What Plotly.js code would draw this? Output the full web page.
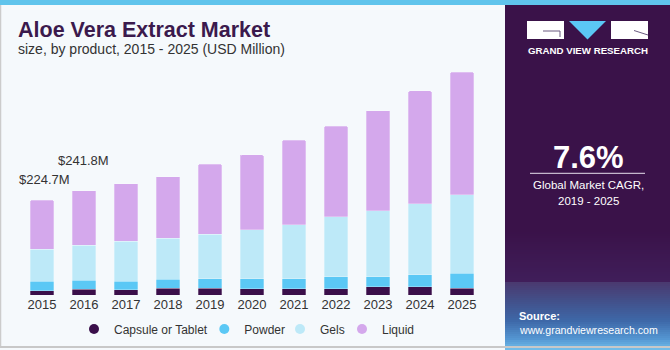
<!DOCTYPE html>
<html><head><meta charset="utf-8">
<script src="https://cdn.plot.ly/plotly-3.0.1.min.js"></script>
<style>html,body{margin:0;padding:0;background:#f5f9fc;} #chart{width:670px;height:350px;}</style>
</head><body><div id="chart"></div>
<script>
// ---- data ----
const years = ['2015','2016','2017','2018','2019','2020','2021','2022','2023','2024','2025'];
const capsule = [10.2,14.2,12.6,16.6,16.6,15.0,15.0,15.0,19.0,19.0,16.6];
const powder  = [23.0,21.4,20.6,20.6,21.4,23.0,23.0,28.5,24.4,28.5,35.6];
const gels    = [75.9,82.3,94.2,98.0,106.1,116.3,128.9,141.7,156.6,169.2,185.1];
const liquid  = [115.6,129.6,136.7,145.5,166.1,178.0,200.3,215.2,237.3,267.4,291.1];
const seriesNames = ['Capsule or Tablet','Powder','Gels','Liquid'];
const totalLabelYears = ['2015','2016'];
const totalLabels = ['$224.7M','$241.8M'];
const cagrText = '7.6%';

// ---- geometry helpers (pixel -> paper) ----
const W=670,H=350, ML=21, MR=187, MT=59, MB=55;
const PW=W-ML-MR, PH=H-MT-MB;
const px = x => (x-ML)/PW;
const py = y => (H-MB-y)/PH;

const colors = ['#3a0f4a','#5bc8f5','#bde9f8','#d4a8ec'];
const series = [capsule,powder,gels,liquid];

const traces = series.map((s,i)=>({
  type:'bar', x:years, y:s, name:seriesNames[i], showlegend:false,
  marker:{color:colors[i], line:{width:0.6,color:'rgba(255,255,255,0.45)'}},
  hoverinfo:'skip'
}));
const legendNames=['legend','legend2','legend3','legend4'];
series.forEach((s,i)=>{
  traces.push({type:'scatter', mode:'markers', x:[years[0]], y:[null], name:seriesNames[i],
    legend:legendNames[i], showlegend:true, hoverinfo:'skip',
    marker:{color:colors[i], size:10, symbol:'circle'}});
});

const totals = years.map((_,i)=>capsule[i]+powder[i]+gels[i]+liquid[i]);

const font = 'Liberation Sans, Arial, sans-serif';
const annotations = [];
const shifts = [{xs:2,ys:11},{xs:-1,ys:21}];
totalLabelYears.forEach((yr,k)=>{
  const i = years.indexOf(yr);
  annotations.push({x:i, y:totals[i], xref:'x', yref:'y', text:totalLabels[k], showarrow:false,
    yanchor:'bottom', xshift:shifts[k].xs, yshift:shifts[k].ys, font:{family:font,size:13,color:'#333'}});
});
// titles
annotations.push({xref:'paper',yref:'paper',x:px(16),y:py(30),xanchor:'left',yanchor:'middle',showarrow:false,
  text:'<b>Aloe Vera Extract Market</b>', font:{family:font,size:21.5,color:'#3b1a4d'}});
annotations.push({xref:'paper',yref:'paper',x:px(16),y:py(49),xanchor:'left',yanchor:'middle',showarrow:false,
  text:'size, by product, 2015 - 2025 (USD Million)', font:{family:font,size:14,color:'#333'}});
// right panel
annotations.push({xref:'paper',yref:'paper',x:px(587.5),y:py(50.7),xanchor:'center',yanchor:'middle',showarrow:false,
  text:'<b>GRAND VIEW RESEARCH</b>', font:{family:font,size:9.7,color:'#ffffff'}});
annotations.push({xref:'paper',yref:'paper',x:px(588),y:py(157),xanchor:'center',yanchor:'middle',showarrow:false,
  text:'<b>'+cagrText+'</b>', font:{family:font,size:31,color:'#ffffff'}});
annotations.push({xref:'paper',yref:'paper',x:px(588),y:py(185),xanchor:'center',yanchor:'middle',showarrow:false,
  text:'Global Market CAGR,', font:{family:font,size:11.5,color:'#ffffff'}});
annotations.push({xref:'paper',yref:'paper',x:px(588),y:py(201),xanchor:'center',yanchor:'middle',showarrow:false,
  text:'2019 - 2025', font:{family:font,size:11.5,color:'#ffffff'}});
annotations.push({xref:'paper',yref:'paper',x:px(517),y:py(315.5),xanchor:'left',yanchor:'middle',showarrow:false,
  text:'<b>Source:</b>', font:{family:font,size:11,color:'#ffffff'}});
annotations.push({xref:'paper',yref:'paper',x:px(517),y:py(329.5),xanchor:'left',yanchor:'middle',showarrow:false,
  text:'www.grandviewresearch.com', font:{family:font,size:10.6,color:'#ffffff'}});

// shapes
const shapes = [];
const rect=(x0,y0,x1,y1,fill,extra)=>Object.assign({type:'rect',xref:'paper',yref:'paper',x0:px(x0),x1:px(x1),y0:py(y0),y1:py(y1),fillcolor:fill,line:{width:0},layer:'below'},extra||{});
shapes.push(rect(505,5,670,350,'#3a1249'));
function lerp(a,b,t){return Math.round(a+(b-a)*t);}
function mix(c1,c2,t){return 'rgb('+lerp(c1[0],c2[0],t)+','+lerp(c1[1],c2[1],t)+','+lerp(c1[2],c2[2],t)+')';}
const stops=[[230,[58,18,73]],[281,[64,30,90]],[282,[74,58,112]],[300,[66,80,138]],[320,[62,104,168]],[338,[84,150,210]],[350,[118,196,238]]];
for(let y=230;y<350;y+=2){
  let k=0; while(k<stops.length-2 && y>=stops[k+1][0]) k++;
  const t=(y-stops[k][0])/(stops[k+1][0]-stops[k][0]);
  shapes.push(rect(505,y,670,y+2.2,mix(stops[k][1],stops[k+1][1],Math.min(1,Math.max(0,t)))));
}
shapes.push(rect(0,0,670,5,'#60c4ec'));
// logo
shapes.push(rect(527,21,564,39,'#ffffff'));
shapes.push({type:'line',xref:'paper',yref:'paper',x0:px(543),x1:px(560),y0:py(31),y1:py(31),line:{color:'#6a5a80',width:1}});
shapes.push({type:'line',xref:'paper',yref:'paper',x0:px(560),x1:px(560),y0:py(31),y1:py(37),line:{color:'#6a5a80',width:1}});
shapes.push({type:'path',xref:'paper',yref:'paper',path:'M '+px(569)+' '+py(21)+' L '+px(606)+' '+py(21)+' L '+px(587.5)+' '+py(39.5)+' Z',fillcolor:'#5bc8f5',line:{width:0}});
shapes.push(rect(611,21,648,39,'#ffffff'));
shapes.push({type:'line',xref:'paper',yref:'paper',x0:px(634),x1:px(648),y0:py(30.5),y1:py(35),line:{color:'#6a5a80',width:1}});
shapes.push({type:'line',xref:'paper',yref:'paper',x0:px(530),x1:px(645),y0:py(173.3),y1:py(173.3),line:{color:'#e8e0ee',width:1}});
shapes.push({type:'line',xref:'paper',yref:'paper',x0:px(0.5),x1:px(0.5),y0:py(5),y1:py(347),line:{color:'#cccccc',width:1.5}});
shapes.push({type:'line',xref:'paper',yref:'paper',x0:px(0),x1:px(670),y0:py(347),y1:py(347),line:{color:'#c8c8c8',width:2}});

// legends
const legendTextStart=[114,244.3,320,382];
const legendCfg={};
legendNames.forEach((ln,i)=>{
  legendCfg[ln]={orientation:'h',x:px(legendTextStart[i]-40),xanchor:'left',y:py(329),yanchor:'middle',
    bgcolor:'rgba(0,0,0,0)',font:{family:font,size:12,color:'#333'},borderwidth:0};
});

const layout = Object.assign({
  width:W,height:H,margin:{l:ML,r:MR,t:MT,b:MB,pad:0,autoexpand:false},
  paper_bgcolor:'#f5f9fc', plot_bgcolor:'rgba(0,0,0,0)',
  barmode:'stack', bargap:0.43, barcornerradius:2,
  font:{family:font,color:'#333'},
  xaxis:{type:'category',categoryorder:'array',categoryarray:years,range:[-0.5,years.length-0.5],
    showgrid:false,zeroline:false,showline:false,ticks:'',automargin:false,
    tickfont:{family:font,size:13,color:'#333'},fixedrange:true},
  yaxis:{range:[0,PH*224.7/94.7],visible:false,showgrid:false,zeroline:false,fixedrange:true},
  showlegend:true,
  annotations:annotations, shapes:shapes
}, legendCfg);

Plotly.newPlot('chart', traces, layout, {staticPlot:true,displayModeBar:false});
</script></body></html>
